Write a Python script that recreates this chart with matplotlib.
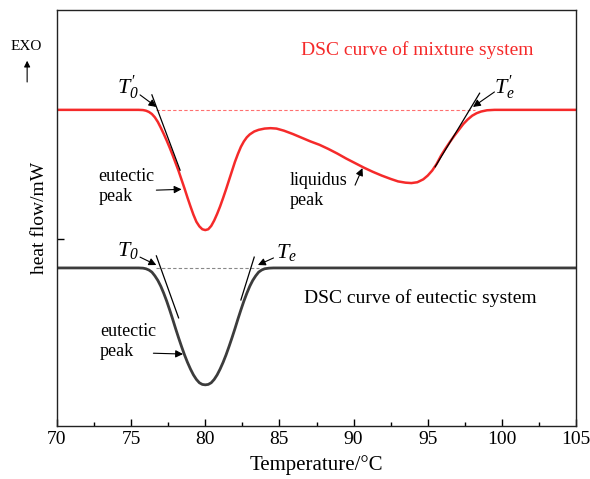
import matplotlib
matplotlib.use("Agg")
import matplotlib.pyplot as plt
from matplotlib.patches import FancyArrowPatch

plt.rcParams["font.family"] = ["Liberation Serif", "DejaVu Serif"]
plt.rcParams["mathtext.fontset"] = "custom"
# math only used for the T labels, which are fully italic (digits too)
plt.rcParams["mathtext.rm"] = "Liberation Serif:italic"
plt.rcParams["mathtext.it"] = "Liberation Serif:italic"
plt.rcParams["mathtext.default"] = "it"

# DSC curve of mixture system (temperature in C, heat flow arbitrary mW)
mix_t = [70.0, 75.5, 75.8, 76.0, 76.2, 76.4, 76.6, 76.8, 77.0, 77.2, 77.4, 77.6,
         77.8, 78.0, 78.2, 78.4, 78.6, 78.8, 79.0, 79.2, 79.4, 79.6, 79.8, 80.0,
         80.2, 80.4, 80.6, 80.8, 81.0, 81.2, 81.4, 81.6, 81.8, 82.0, 82.2, 82.4,
         82.6, 82.8, 83.0, 83.3, 83.6, 84.0, 84.4, 84.8, 85.3, 85.9, 86.5, 87.1,
         87.7, 88.3, 88.9, 89.5, 90.1, 90.7, 91.3, 91.9, 92.5, 93.0, 93.5, 93.9,
         94.3, 94.7, 95.0, 95.3, 95.6, 95.9, 96.2, 96.5, 96.8, 97.1, 97.4, 97.7,
         98.0, 98.3, 98.6, 99.0, 99.5, 105.0]
mix_hf = [7.60, 7.60, 7.595, 7.58, 7.55, 7.50, 7.42, 7.31, 7.17, 7.02, 6.86, 6.69,
          6.51, 6.32, 6.13, 5.92, 5.71, 5.49, 5.28, 5.08, 4.91, 4.80, 4.73, 4.71,
          4.73, 4.81, 4.94, 5.10, 5.28, 5.48, 5.69, 5.91, 6.13, 6.35, 6.54, 6.71,
          6.84, 6.94, 7.01, 7.08, 7.12, 7.15, 7.16, 7.15, 7.10, 7.02, 6.93, 6.84,
          6.76, 6.66, 6.55, 6.43, 6.32, 6.21, 6.11, 6.02, 5.94, 5.88, 5.85, 5.84,
          5.86, 5.93, 6.02, 6.14, 6.30, 6.50, 6.67, 6.83, 6.98, 7.12, 7.26, 7.37,
          7.46, 7.52, 7.56, 7.59, 7.60, 7.60]

# DSC curve of eutectic system
eut_t = [70.0, 75.5, 75.8, 76.0, 76.2, 76.4, 76.6, 76.8, 77.0, 77.2, 77.4, 77.6,
         77.8, 78.0, 78.2, 78.4, 78.6, 78.8, 79.0, 79.2, 79.4, 79.6, 79.8, 80.0,
         80.2, 80.4, 80.6, 80.8, 81.0, 81.2, 81.4, 81.6, 81.8, 82.0, 82.2, 82.4,
         82.6, 82.8, 83.0, 83.2, 83.4, 83.6, 83.8, 84.0, 84.3, 84.6, 105.0]
eut_hf = [3.80, 3.80, 3.795, 3.78, 3.75, 3.70, 3.61, 3.50, 3.36, 3.19, 3.00, 2.79,
          2.57, 2.34, 2.12, 1.91, 1.71, 1.53, 1.37, 1.23, 1.12, 1.04, 1.00, 0.99,
          1.00, 1.04, 1.12, 1.23, 1.37, 1.53, 1.71, 1.91, 2.12, 2.34, 2.57, 2.79,
          3.00, 3.19, 3.36, 3.50, 3.61, 3.70, 3.75, 3.78, 3.795, 3.80, 3.80]

# tangent lines (onset / endset construction)
mix_tan_left = ([76.4, 78.3], [7.96, 6.15])
mix_tan_right = ([95.5, 98.5], [6.23, 8.00])
eut_tan_left = ([76.7, 78.2], [4.09, 2.60])
eut_tan_right = ([82.4, 83.3], [3.03, 4.06])

# extrapolated baselines
mix_base = ([76.7, 98.2], [7.60, 7.60])
eut_base = ([76.7, 83.6], [3.80, 3.80])

fig = plt.figure(figsize=(5.9, 4.79), dpi=100)
ax = fig.add_axes([0.0966, 0.1106, 0.8797, 0.8685])

red = "#f52a2a"
dark = "#3c3c3c"

ax.plot(mix_base[0], mix_base[1], color="#ff7070", lw=0.8, ls=(0, (3, 2)))
ax.plot(eut_base[0], eut_base[1], color="#888888", lw=0.8, ls=(0, (3, 2)))
ax.plot(mix_t, mix_hf, color=red, lw=1.8, solid_joinstyle="round")
ax.plot(eut_t, eut_hf, color=dark, lw=2.0, solid_joinstyle="round")
for xs, ys in (mix_tan_left, mix_tan_right, eut_tan_left, eut_tan_right):
    ax.plot(xs, ys, color="black", lw=0.9)

arr = dict(arrowstyle="-|>", color="black", lw=0.8, mutation_scale=11,
           shrinkA=0, shrinkB=0)

ax.annotate("", xy=(76.7, 7.67), xytext=(75.6, 7.96), arrowprops=arr)
ax.text(74.8, 8.13, r"$T_0^{\prime}$", fontsize=16, ha="center", va="center")
ax.annotate("", xy=(98.05, 7.67), xytext=(99.5, 8.03), arrowprops=arr)
ax.text(100.2, 8.13, r"$T_e^{\prime}$", fontsize=16, ha="center", va="center")
ax.annotate("", xy=(76.7, 3.87), xytext=(75.6, 4.06), arrowprops=arr)
ax.text(74.8, 4.23, r"$T_0$", fontsize=16, ha="center", va="center")
ax.annotate("", xy=(83.55, 3.87), xytext=(84.6, 4.04), arrowprops=arr)
ax.text(85.5, 4.18, r"$T_e$", fontsize=16, ha="center", va="center")

ax.annotate("", xy=(78.4, 5.69), xytext=(76.7, 5.67), arrowprops=arr)
ax.text(72.8, 5.75, "eutectic\npeak", fontsize=13, ha="left", va="center",
        linespacing=1.25)
ax.annotate("", xy=(78.5, 1.73), xytext=(76.5, 1.75), arrowprops=arr)
ax.text(72.9, 2.04, "eutectic\npeak", fontsize=13, ha="left", va="center",
        linespacing=1.25)
ax.annotate("", xy=(90.6, 6.20), xytext=(90.1, 5.79), arrowprops=arr)
ax.text(85.7, 5.67, "liquidus\npeak", fontsize=13, ha="left", va="center",
        linespacing=1.25)

ax.text(94.3, 9.04, "DSC curve of mixture system", color=red, fontsize=14,
        ha="center", va="center")
ax.text(94.5, 3.08, "DSC curve of eutectic system", color="black", fontsize=14,
        ha="center", va="center")

fig.text(0.044, 0.902, "EXO", fontsize=11, ha="center", va="center")
fig.patches.append(FancyArrowPatch(
    (0.046, 0.823), (0.046, 0.879), transform=fig.transFigure,
    arrowstyle="-|>", mutation_scale=9, color="black", lw=0.8))

ax.set_xlim(70, 105)
ax.set_ylim(0, 10)
ax.set_xticks([70, 75, 80, 85, 90, 95, 100, 105])
ax.set_xticks([72.5, 77.5, 82.5, 87.5, 92.5, 97.5, 102.5], minor=True)
ax.set_yticks([4.5])
ax.set_yticklabels([])
ax.tick_params(direction="in", which="major", length=5, width=1, labelsize=14)
ax.tick_params(direction="in", which="minor", length=3, width=1)
for s in ax.spines.values():
    s.set_linewidth(1.0)
    s.set_color("#222222")

ax.set_xlabel("Temperature/\u00b0C", fontsize=15, labelpad=5)
ax.set_ylabel("heat flow/mW", fontsize=14, labelpad=3)

fig.savefig("out.png", dpi=100)
